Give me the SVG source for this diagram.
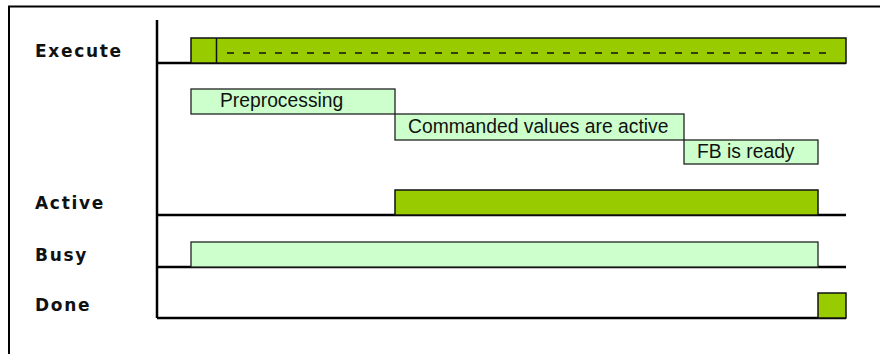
<svg xmlns="http://www.w3.org/2000/svg" width="880" height="354" viewBox="0 0 880 354">
  <style>
    .frame { fill: none; stroke: #000; stroke-width: 2; }
    .axis { fill: none; stroke: #000; stroke-width: 2.5; }
    .on { fill: #99CC00; stroke: #111; stroke-width: 1.5; }
    .phase { fill: #CCFFCC; stroke: #222; stroke-width: 1.3; }
    .dash { fill: none; stroke: #111; stroke-width: 1.6; stroke-dasharray: 7 9; }
    .sig { font-family: "DejaVu Sans", Verdana, sans-serif; font-weight: bold; font-size: 17px; letter-spacing: 1.7px; fill: #111; }
    .lbl { font-family: "Liberation Sans", Arial, sans-serif; font-size: 19.3px; fill: #111; }
  </style>

  <rect width="880" height="354" fill="#fff"/>
  <!-- outer frame (top and left edges) -->
  <path class="frame" d="M9 354 V6.5 H880"/>

  <!-- time axis and signal baselines -->
  <g id="axes">
    <path class="axis" d="M157 20 V318"/>
    <path class="axis" d="M157 63 H846"/>
    <path class="axis" d="M157 215 H846"/>
    <path class="axis" d="M157 267 H846"/>
    <path class="axis" d="M157 318 H846"/>
  </g>

  <g id="execute">
    <text class="sig" x="35" y="56.5">Execute</text>
    <rect class="on" x="191" y="38" width="655" height="25"/>
    <path class="on" d="M216.5 38 V63"/>
    <path class="dash" d="M227 53 H834"/>
  </g>

  <g id="preprocessing">
    <rect class="phase" x="191" y="89" width="204" height="25"/>
    <text class="lbl" x="220" y="106.5">Preprocessing</text>
  </g>

  <g id="commanded">
    <rect class="phase" x="395" y="114" width="289" height="26"/>
    <text class="lbl" x="408" y="133">Commanded values are active</text>
  </g>

  <g id="fb-ready">
    <rect class="phase" x="684" y="140" width="134" height="24"/>
    <text class="lbl" x="697" y="158">FB is ready</text>
  </g>

  <g id="active">
    <text class="sig" x="35" y="209">Active</text>
    <rect class="on" x="395" y="190" width="423" height="25"/>
  </g>

  <g id="busy">
    <text class="sig" x="35" y="261">Busy</text>
    <rect class="phase" x="191" y="242" width="627" height="25"/>
  </g>

  <g id="done">
    <text class="sig" x="35" y="310.5">Done</text>
    <rect class="on" x="818" y="293" width="28" height="25"/>
  </g>
</svg>
